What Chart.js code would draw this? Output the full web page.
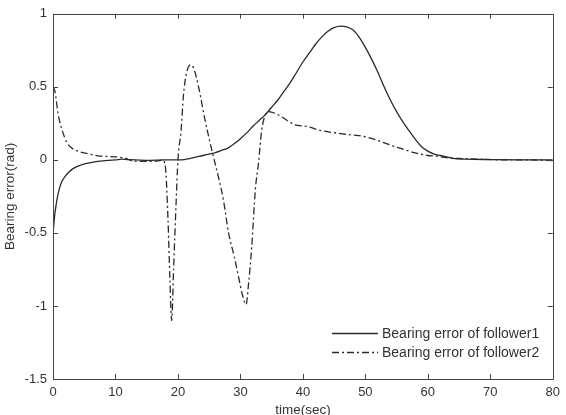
<!DOCTYPE html>
<html>
<head>
<meta charset="utf-8">
<script src="https://cdn.jsdelivr.net/npm/chart.js@4/dist/chart.umd.min.js"></script>
<style>
html,body{margin:0;padding:0;background:#fff;}
#wrap{width:566px;height:415px;}
</style>
</head>
<body>
<div id="wrap"><canvas id="c" width="566" height="415"></canvas></div>
<script>
// ---- data ----
const xTicks = [0, 10, 20, 30, 40, 50, 60, 70, 80];
const yTicks = [1, 0.5, 0, -0.5, -1, -1.5];
const seriesNames = ["Bearing error of follower1", "Bearing error of follower2"];

const t1 = [0, 0.3, 0.6, 1.0, 1.4, 2.0, 2.4, 3.2, 4.5, 5.9, 7.5, 9.0, 10, 11, 12, 15, 18, 20, 21, 22, 24, 25, 26, 27, 28, 29, 30, 31, 32, 33, 34, 35, 36, 37, 38, 39, 40, 41, 42, 43, 44, 45, 46, 47, 48, 49, 50, 51, 52, 53, 54, 55, 56, 57, 58, 59, 60, 61, 62, 63, 64, 66, 70, 75, 80];
const e1 = [-0.50, -0.37, -0.28, -0.20, -0.15, -0.11, -0.09, -0.06, -0.035, -0.02, -0.009, -0.003, 0.0, 0.005, 0.002, -0.003, 0, 0, 0.002, 0.01, 0.03, 0.04, 0.05, 0.065, 0.08, 0.11, 0.145, 0.185, 0.23, 0.27, 0.31, 0.36, 0.41, 0.47, 0.53, 0.60, 0.67, 0.73, 0.79, 0.84, 0.88, 0.905, 0.915, 0.91, 0.89, 0.84, 0.77, 0.69, 0.60, 0.50, 0.41, 0.33, 0.26, 0.20, 0.14, 0.09, 0.06, 0.04, 0.03, 0.02, 0.01, 0.005, 0.002, 0, 0];

const t2 = [0, 0.3, 0.8, 1.2, 1.6, 2.2, 2.9, 4.0, 5.0, 7.6, 10.3, 11.7, 12.5, 14, 16, 17, 17.5, 18.0, 18.4, 18.7, 19.0, 19.3, 19.7, 20.0, 20.5, 20.9, 21.3, 22.0, 22.5, 23.3, 24.3, 25.4, 26.5, 27.3, 28.1, 29.0, 29.7, 30.3, 30.9, 31.3, 31.8, 32.4, 32.9, 33.4, 34.0, 34.5, 36, 37.5, 38.7, 40.5, 43, 46, 48, 49.8, 51.5, 53.5, 55.5, 57.8, 60, 61.3, 63, 65, 68, 72, 76, 80];
const e2 = [0.50, 0.47, 0.32, 0.24, 0.185, 0.12, 0.085, 0.06, 0.048, 0.026, 0.02, 0.01, -0.005, -0.01, -0.01, -0.005, 0.0, -0.05, -0.4, -0.8, -1.1, -0.75, -0.3, 0.0, 0.2, 0.45, 0.58, 0.65, 0.63, 0.50, 0.28, 0.07, -0.12, -0.28, -0.50, -0.66, -0.80, -0.92, -0.99, -0.85, -0.6, -0.2, -0.02, 0.2, 0.31, 0.33, 0.31, 0.27, 0.24, 0.23, 0.2, 0.18, 0.17, 0.16, 0.14, 0.11, 0.08, 0.05, 0.03, 0.025, 0.015, 0.01, 0.005, 0.0, 0.0, -0.005];

const lineColor = "#2a2a2a";
const axisColor = "#444";
const textColor = "#333";
const dashDot = [7, 3, 2, 3];

const boxTicks = {
  id: "boxTicks",
  afterDraw(chart) {
    const ctx = chart.ctx, a = chart.chartArea;
    const xs = chart.scales.x, ys = chart.scales.y;
    ctx.save();
    ctx.strokeStyle = axisColor;
    ctx.lineWidth = 1;
    ctx.beginPath();
    ctx.rect(Math.round(a.left) + 0.5, Math.round(a.top) + 0.5, Math.round(a.right - a.left), Math.round(a.bottom - a.top));
    const L = 5;
    xTicks.forEach(v => {
      const px = Math.round(xs.getPixelForValue(v)) + 0.5;
      ctx.moveTo(px, a.bottom); ctx.lineTo(px, a.bottom - L);
      ctx.moveTo(px, a.top); ctx.lineTo(px, a.top + L);
    });
    yTicks.forEach(v => {
      const py = Math.round(ys.getPixelForValue(v)) + 0.5;
      ctx.moveTo(a.left, py); ctx.lineTo(a.left + L, py);
      ctx.moveTo(a.right, py); ctx.lineTo(a.right - L, py);
    });
    ctx.stroke();

    // legend (inside lower right)
    const lx0 = 332, lx1 = 378, tx = 382, rows = [333, 352];
    ctx.font = "14px 'Liberation Sans', Arial, sans-serif";
    ctx.textAlign = "left";
    ctx.textBaseline = "middle";
    chart.data.datasets.forEach((ds, i) => {
      const y = rows[i] + 0.5;
      ctx.strokeStyle = ds.borderColor;
      ctx.lineWidth = ds.borderWidth;
      ctx.setLineDash(ds.borderDash || []);
      ctx.beginPath();
      ctx.moveTo(lx0, y); ctx.lineTo(lx1, y);
      ctx.stroke();
      ctx.setLineDash([]);
      ctx.fillStyle = textColor;
      ctx.fillText(ds.label, tx, rows[i] + 1);
    });
    ctx.restore();
  }
};

new Chart(document.getElementById("c"), {
  type: "line",
  data: {
    datasets: [
      {
        label: seriesNames[0],
        data: t1.map((t, i) => ({ x: t, y: e1[i] })),
        borderColor: lineColor,
        borderWidth: 1.3,
        pointRadius: 0,
        fill: false,
        cubicInterpolationMode: "monotone"
      },
      {
        label: seriesNames[1],
        data: t2.map((t, i) => ({ x: t, y: e2[i] })),
        borderColor: lineColor,
        borderWidth: 1.3,
        borderDash: dashDot,
        pointRadius: 0,
        fill: false,
        cubicInterpolationMode: "monotone"
      }
    ]
  },
  options: {
    responsive: false,
    animation: false,
    devicePixelRatio: 1,
    layout: { padding: { top: 12, right: 9, left: 0, bottom: 0 } },
    plugins: { legend: { display: false }, tooltip: { enabled: false } },
    scales: {
      x: {
        type: "linear",
        min: 0, max: 80,
        afterBuildTicks(s) { s.ticks = xTicks.map(v => ({ value: v })); },
        afterFit(s) { s.height = 36; },
        grid: { display: false, drawTicks: false },
        border: { display: false },
        ticks: { padding: 6, color: textColor, font: { family: "'Liberation Sans', Arial, sans-serif", size: 13 }, maxRotation: 0 },
        title: { display: true, text: "time(sec)", color: textColor, padding: { top: 0, bottom: -3 }, font: { family: "'Liberation Sans', Arial, sans-serif", size: 13.5 } }
      },
      y: {
        type: "linear",
        min: -1.5, max: 1,
        afterBuildTicks(s) { s.ticks = yTicks.map(v => ({ value: v })); },
        afterFit(s) { s.width = 53; },
        grid: { display: false, drawTicks: false },
        border: { display: false },
        ticks: { padding: 6, color: textColor, font: { family: "'Liberation Sans', Arial, sans-serif", size: 13 }, callback: v => String(v) },
        title: { display: true, text: "Bearing error(rad)", color: textColor, padding: { top: 2, bottom: 0 }, font: { family: "'Liberation Sans', Arial, sans-serif", size: 13.5 } }
      }
    }
  },
  plugins: [boxTicks]
});
</script>
</body>
</html>
